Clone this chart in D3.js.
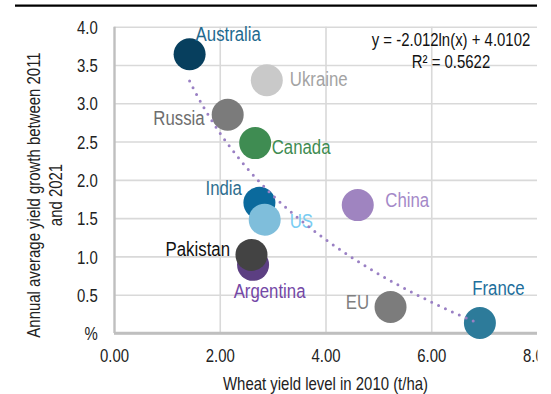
<!DOCTYPE html>
<html>
<head>
<meta charset="utf-8">
<script src="https://cdn.jsdelivr.net/npm/d3@7/dist/d3.min.js"></script>
<style>
  html, body { margin: 0; padding: 0; background: #fff; }
  svg { display: block; }
  text { font-family: "Liberation Sans", Arial, sans-serif; }
</style>
</head>
<body>
<svg id="chart" width="551" height="394"></svg>
<script>
// Wheat yield level in 2010 vs annual average yield growth 2011-2021
const countries   = ["Australia", "Ukraine", "Russia", "Canada", "India", "US", "Argentina", "Pakistan", "China", "EU", "France"];
const yieldLevel  = [1.43, 2.89, 2.15, 2.67, 2.75, 2.85, 2.63, 2.60, 4.61, 5.23, 6.92];
const yieldGrowth = [3.64, 3.30, 2.85, 2.48, 1.70, 1.48, 0.89, 1.02, 1.67, 0.34, 0.13];

const xTicks      = [0, 2, 4, 6, 8];
const xTickLabels = ["0.00", "2.00", "4.00", "6.00", "8.00"];
const yTicks      = [0, 0.5, 1, 1.5, 2, 2.5, 3, 3.5, 4];
const yTickLabels = ["%", "0.5", "1.0", "1.5", "2.0", "2.5", "3.0", "3.5", "4.0"];

// Logarithmic trend fitted to the points
const trendA = -2.012, trendB = 4.0102, trendR2 = 0.5622;

// Marker and label styling per country
const markerColor = {
  Australia: "#073f5e", Ukraine: "#c9c9c9", Russia: "#7b7b7b", Canada: "#3f8c52",
  India: "#0b6a9d", US: "#7fbedb", Argentina: "#5c3f82", Pakistan: "#434343",
  China: "#9f84c0", EU: "#7c7c7c", France: "#2d7b9a"
};
const labelColor = {
  Australia: "#1f6a8f", Ukraine: "#a3a3a3", Russia: "#6e6e6e", Canada: "#3f8c52",
  India: "#2f6f8f", US: "#79cdf3", Argentina: "#7448a6", Pakistan: "#111111",
  China: "#a489c8", EU: "#7f7f7f", France: "#1d6f9c"
};
// Label offsets from marker centre (px) and anchor
const labelPlace = {
  Australia: [6, -13, "start"],  Ukraine: [23, 6, "start"],   Russia: [-23, 10.5, "end"],
  Canada: [16.5, 10.7, "start"], India: [-17.5, -7.7, "end"], US: [25, 8.7, "start"],
  Argentina: [16.5, 33, "middle"], Pakistan: [-21.5, 1.5, "end"], China: [27.5, 1.5, "start"],
  EU: [-21.5, 2.3, "end"], France: [18.5, -28.3, "middle"]
};

const svg = d3.select("#chart");
const plotL = 114, plotR = 537, plotT = 26.7, plotB = 333;
const x = d3.scaleLinear().domain([0, 8]).range([plotL, plotR]);
const y = d3.scaleLinear().domain([0, 4]).range([plotB, plotT]);
const squeeze = 0.83;   // narrow face
const ink = "#222";

// chart area ends at the last gridline
svg.append("defs").append("clipPath").attr("id", "chartArea")
  .append("rect").attr("x", 0).attr("y", 0).attr("width", 537.5).attr("height", 394);
const root = svg.append("g").attr("clip-path", "url(#chartArea)");

// top rule
root.append("line").attr("x1", 15).attr("x2", 537).attr("y1", 5.7).attr("y2", 5.7)
  .attr("stroke", "#000").attr("stroke-width", 2.2);

// y axis with horizontal gridlines
const yAxis = root.append("g").attr("transform", `translate(${plotL},0)`)
  .call(d3.axisLeft(y).tickValues(yTicks).tickSize(-(plotR - plotL))
        .tickFormat((d, i) => yTickLabels[i]));
yAxis.select(".domain").remove();
yAxis.selectAll(".tick line").attr("stroke", d => d === 0 ? "#bfbfbf" : "#d9d9d9")
  .attr("stroke-width", d => d === 0 ? 2.4 : 1.6);
yAxis.selectAll(".tick text").attr("x", 0).attr("dy", null).attr("y", 6.6)
  .attr("transform", `translate(-16.3,0) scale(${squeeze},1)`)
  .attr("font-size", 18).attr("fill", ink)
  .style("font-family", '"Liberation Sans", Arial, sans-serif');

// x axis with vertical gridlines
const xAxis = root.append("g").attr("transform", `translate(0,${plotB})`)
  .call(d3.axisBottom(x).tickValues(xTicks).tickSize(-(plotB - plotT))
        .tickFormat((d, i) => xTickLabels[i]));
xAxis.select(".domain").remove();
xAxis.selectAll(".tick line")
  .attr("stroke", d => d === 0 ? "#bfbfbf" : "#d9d9d9")
  .attr("stroke-width", d => d === 0 ? 2.4 : 1.6)
  .attr("display", d => d === 8 ? "none" : null);
xAxis.selectAll(".tick text").attr("y", 29.5).attr("dy", null)
  .attr("transform", `scale(${squeeze},1)`)
  .attr("font-size", 18).attr("fill", ink)
  .style("font-family", '"Liberation Sans", Arial, sans-serif');

// bottom axis line on top of gridlines
root.append("line").attr("x1", plotL).attr("x2", plotR).attr("y1", plotB).attr("y2", plotB)
  .attr("stroke", "#bfbfbf").attr("stroke-width", 2.4);

// axis titles
root.append("text").attr("transform", `translate(${(plotL + plotR) / 2},390) scale(${squeeze},1)`)
  .attr("text-anchor", "middle").attr("font-size", 18).attr("fill", ink)
  .text("Wheat yield level in 2010 (t/ha)");
const yTitle = root.append("g").attr("transform", "translate(0,195) rotate(-90)");
yTitle.append("text").attr("transform", `translate(0,39.5) scale(${squeeze},1)`)
  .attr("text-anchor", "middle").attr("font-size", 18).attr("fill", ink)
  .text("Annual average yield growth between 2011");
yTitle.append("text").attr("transform", `translate(0,61.5) scale(${squeeze},1)`)
  .attr("text-anchor", "middle").attr("font-size", 18).attr("fill", ink)
  .text("and 2021");

// markers
const pts = countries.map((c, i) => ({ name: c, xv: yieldLevel[i], yv: yieldGrowth[i] }));
root.append("g").selectAll("circle").data(pts).join("circle")
  .attr("cx", d => x(d.xv)).attr("cy", d => y(d.yv)).attr("r", 16)
  .attr("fill", d => markerColor[d.name]);

// country labels
root.append("g").selectAll("text").data(pts).join("text")
  .attr("transform", d => `translate(${x(d.xv) + labelPlace[d.name][0]},${y(d.yv) + labelPlace[d.name][1]}) scale(0.8,1)`)
  .attr("text-anchor", d => labelPlace[d.name][2])
  .attr("font-size", 21).attr("fill", d => labelColor[d.name])
  .text(d => d.name);

// dotted logarithmic trendline
const xs = d3.range(0, 201).map(k => 1.43 + (6.92 - 1.43) * k / 200);
root.append("path")
  .attr("d", d3.line().x(v => x(v)).y(v => y(trendA * Math.log(v) + trendB))(xs))
  .attr("fill", "none").attr("stroke", "#9a80c4").attr("stroke-width", 3)
  .attr("stroke-linecap", "round").attr("stroke-dasharray", "0 7.6");

// trend equation
const eq = root.append("g").attr("fill", "#111").attr("font-size", 18).attr("text-anchor", "middle");
eq.append("text").attr("transform", `translate(451,46) scale(${squeeze},1)`)
  .text(`y = ${trendA}ln(x) + ${trendB}`);
eq.append("text").attr("transform", `translate(451,67.5) scale(${squeeze},1)`)
  .text(`R² = ${trendR2}`);
</script>
</body>
</html>
